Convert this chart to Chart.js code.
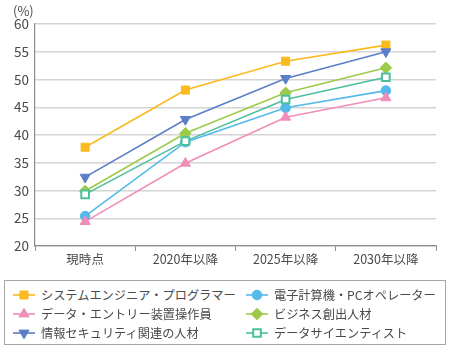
<!DOCTYPE html>
<html>
<head>
<meta charset="utf-8">
<script src="https://cdn.jsdelivr.net/npm/chart.js@4/dist/chart.umd.min.js"></script>
<style>
  html, body { margin: 0; padding: 0; background: #fff; }
  body { width: 449px; height: 349px; position: relative; overflow: hidden;
         font-family: "Noto Sans CJK JP", "Noto Sans", sans-serif; }
  #wrap { position: absolute; left: 0; top: 0; width: 449px; height: 272px; }
  #legend { position: absolute; left: 4px; top: 280px; width: 440px; height: 63px;
            border: 1px solid #a6a6a6; }
  .item { position: absolute; height: 18px; display: flex; align-items: center;
          font-size: 12.2px; color: #4a4a4a; white-space: nowrap; }
  .item canvas { margin-right: 5px; }
</style>
</head>
<body>
<div id="wrap"><canvas id="chart1"></canvas></div>
<div id="legend"></div>
<script>
const categories = ['現時点', '2020年以降', '2025年以降', '2030年以降'];

const seriesNames = [
  'システムエンジニア・プログラマー',
  '電子計算機・PCオペレーター',
  'データ・エントリー装置操作員',
  'ビジネス創出人材',
  '情報セキュリティ関連の人材',
  'データサイエンティスト'
];

const sysEngineer  = [37.8, 48.1, 53.3, 56.2];
const pcOperator   = [25.4, 38.7, 44.9, 48.0];
const dataEntry    = [24.4, 34.9, 43.2, 46.7];
const bizCreation  = [29.9, 40.3, 47.6, 52.1];
const security     = [32.4, 42.8, 50.2, 55.0];
const dataScience  = [29.3, 38.9, 46.4, 50.4];

const yTicks = [20, 25, 30, 35, 40, 45, 50, 55, 60];

const seriesValues = [sysEngineer, pcOperator, dataEntry, bizCreation, security, dataScience];
const colors = ['#fbba1e', '#55b9ea', '#f08db8', '#9dca4a', '#5a7ec8', '#4cbf9e'];
const styles = ['rect', 'circle', 'triangle', 'rectRot', 'triangle', 'rect'];
const rotations = [0, 0, 0, 0, 180, 0];
const radii = [5.7, 4.8, 5.8, 5.8, 5.8, 5.4];
const fills = [colors[0], colors[1], colors[2], colors[3], colors[4], '#ffffff'];
const borderWidths = [1, 1, 1, 1, 1, 2];

const FONT = '"Noto Sans CJK JP", "Noto Sans", sans-serif';

const datasets = seriesValues.map((vals, i) => ({
  label: seriesNames[i],
  data: vals,
  borderColor: colors[i],
  backgroundColor: fills[i],
  borderWidth: 1.6,
  pointStyle: styles[i],
  rotation: rotations[i],
  pointRadius: radii[i],
  pointBackgroundColor: fills[i],
  pointBorderColor: colors[i],
  pointBorderWidth: borderWidths[i],
  tension: 0,
  order: seriesValues.length - i
}));

const percentLabel = {
  id: 'percentLabel',
  afterDraw(chart) {
    const ctx = chart.ctx;
    ctx.save();
    ctx.font = '13px ' + FONT;
    ctx.fillStyle = '#4a4a4a';
    ctx.textAlign = 'left';
    ctx.textBaseline = 'middle';
    ctx.fillText('(%)', 13, 11);
    ctx.restore();
  }
};

const ctx = document.getElementById('chart1').getContext('2d');
const myChart = new Chart(ctx, {
  type: 'line',
  data: { labels: categories, datasets: datasets },
  options: {
    responsive: true,
    maintainAspectRatio: false,
    animation: false,
    layout: { padding: { top: 24, right: 13, left: 0, bottom: 0 } },
    plugins: {
      legend: { display: false },
      tooltip: { enabled: false }
    },
    scales: {
      x: {
        type: 'category',
        offset: true,
        grid: { display: true, drawOnChartArea: false, drawTicks: true, tickLength: 5,
                color: '#8c8c8c', lineWidth: 1, offset: true },
        border: { display: true, color: '#8c8c8c', width: 1.2 },
        ticks: { color: '#4a4a4a', font: { family: FONT, size: 12.5 }, padding: 1 },
        afterFit(scale) { scale.height = 26; }
      },
      y: {
        min: 20,
        max: 60,
        afterBuildTicks(scale) { scale.ticks = yTicks.map(v => ({ value: v })); },
        grid: { color: '#d4d4d4', lineWidth: 1.4, drawTicks: false },
        border: { display: true, color: '#8c8c8c', width: 1.2 },
        ticks: { color: '#4a4a4a', font: { family: FONT, size: 13.5 }, padding: 6 },
        afterFit(scale) { scale.width = 35; }
      }
    }
  },
  plugins: [percentLabel]
});

// legend in two columns, row-wise like the original
const legend = document.getElementById('legend');
const colX = [7, 240];
const rowY = [5, 24, 43];
seriesNames.forEach((name, i) => {
  const item = document.createElement('div');
  item.className = 'item';
  item.style.left = colX[i % 2] + 'px';
  item.style.top = rowY[Math.floor(i / 2)] + 'px';
  const c = document.createElement('canvas');
  c.width = 24; c.height = 14;
  c.style.width = '24px'; c.style.height = '14px';
  const g = c.getContext('2d');
  g.strokeStyle = colors[i];
  g.lineWidth = 1.6;
  g.beginPath(); g.moveTo(1, 7); g.lineTo(23, 7); g.stroke();
  g.fillStyle = fills[i];
  g.lineWidth = borderWidths[i];
  const r = radii[i];
  g.beginPath();
  if (styles[i] === 'rect') {
    const s = r * Math.SQRT1_2;
    g.rect(12 - s, 7 - s, 2 * s, 2 * s);
  } else if (styles[i] === 'circle') {
    g.arc(12, 7, r, 0, Math.PI * 2);
  } else if (styles[i] === 'rectRot') {
    g.moveTo(12, 7 - r); g.lineTo(12 + r, 7); g.lineTo(12, 7 + r); g.lineTo(12 - r, 7); g.closePath();
  } else {
    const dir = rotations[i] === 180 ? -1 : 1;
    const h = r * 0.5;
    g.moveTo(12, 7 - dir * r); g.lineTo(12 + r * 0.866, 7 + dir * h); g.lineTo(12 - r * 0.866, 7 + dir * h); g.closePath();
  }
  g.fill();
  g.strokeStyle = colors[i];
  g.stroke();
  item.appendChild(c);
  const t = document.createElement('span');
  t.textContent = name;
  item.appendChild(t);
  legend.appendChild(item);
});
</script>
</body>
</html>
